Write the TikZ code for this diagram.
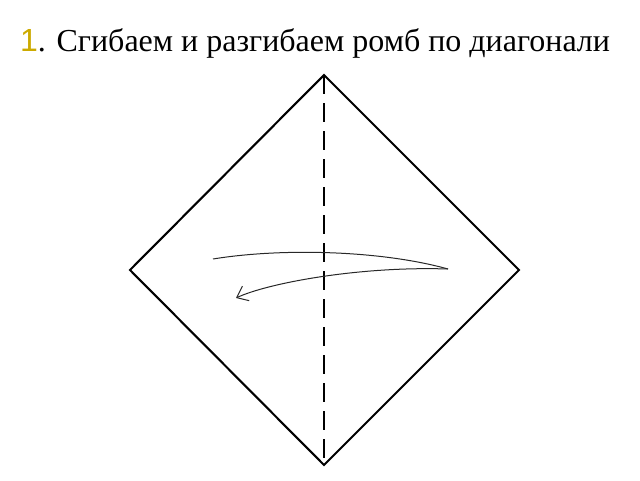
\documentclass[tikz,border=0pt]{standalone}
\usepackage{fontspec}
\setmainfont{Liberation Serif}
\newfontfamily\numfont{Liberation Sans}
\usepackage{tikz}
\usetikzlibrary{arrows.meta,positioning}
\definecolor{stepgold}{RGB}{204,170,0}
\tikzset{
    fold edge/.style={line width=2.1, line join=miter},
    fold line/.style={line width=2.6, dash pattern=on 19 off 9},
    turn arrow/.style={line width=1, color={rgb, 255:red, 40; green, 40; blue, 40 }},
}

\begin{document}
\begin{tikzpicture}[x=1pt,y=1pt,yscale=-1,xscale=1]
		\useasboundingbox (0,0) rectangle (640,480);
		
		% Text Node
		\node [anchor=base west, font=\fontsize{32}{36}\selectfont, inner sep=0] (title) at (20,51) {{\numfont\color{stepgold}1}. Сгибаем и разгибаем ромб по диагонали};
		
		% Corners of the rhombus
		\coordinate (top) at (324,75);
		\coordinate (right) at (519,270);
		\coordinate (bottom) at (324,465);
		\coordinate (left) at (130,270);
		\draw [fold edge] (top) -- (right) -- (bottom) -- (left) -- cycle;
		
		% Connection
		\draw [fold line] (top) -- (bottom);
		
		% Arrow
		\coordinate (from) at (213,259);
		\coordinate (turn) at (448,269);
		\coordinate (to) at (236,298);
		\draw [turn arrow] (from) .. controls (280,248) and (380,250) .. (turn);
		\draw [turn arrow, -{Straight Barb[length=10pt,width=16pt]}] (turn) .. controls (360,266) and (268,283) .. (to);
		
\end{tikzpicture}
\end{document}
